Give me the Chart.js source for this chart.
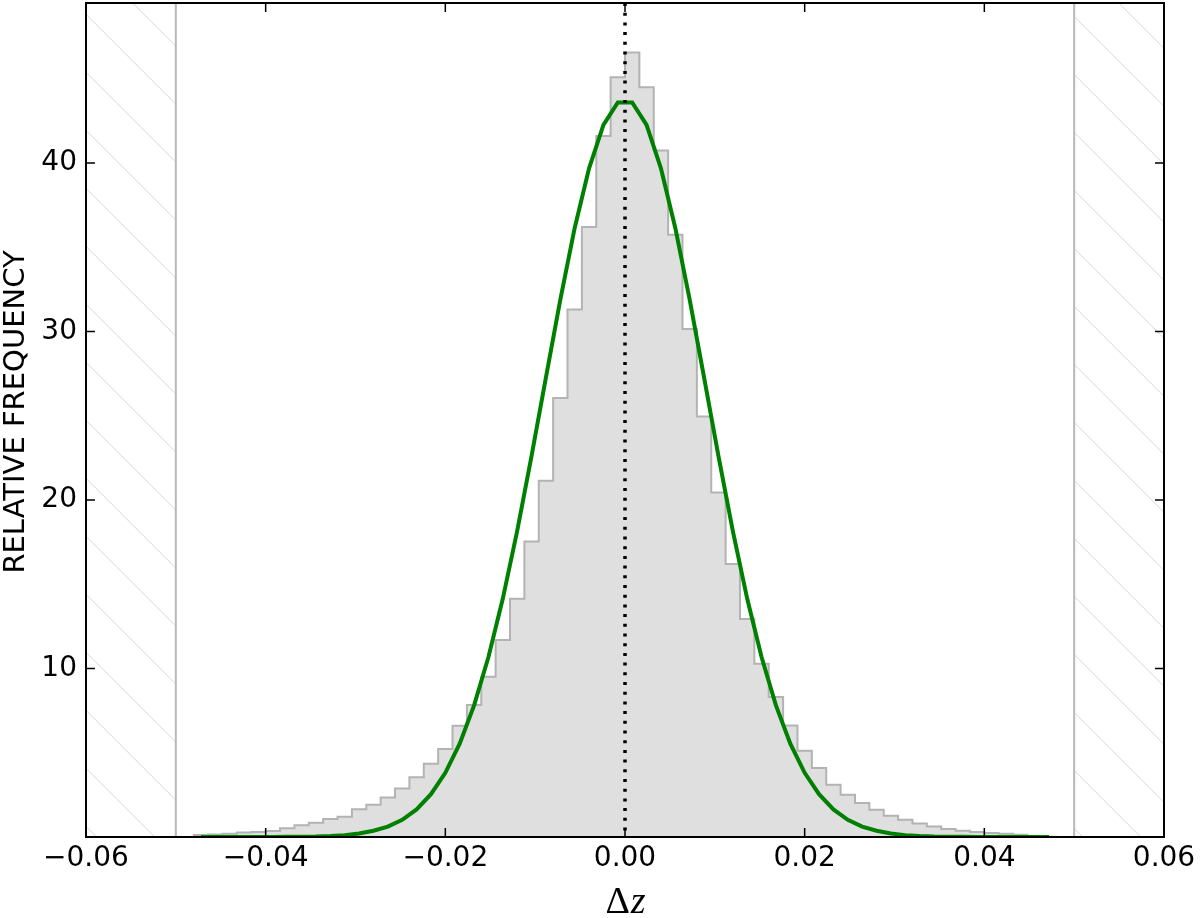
<!DOCTYPE html>
<html>
<head>
<meta charset="utf-8">
<script src="https://cdn.jsdelivr.net/npm/chart.js@4"></script>
<style>
  body { margin: 0; background: #fff; }
</style>
</head>
<body>
<canvas id="chart" width="1200" height="918"></canvas>
<script>
// histogram bin edges (Δz)
const binEdges = [
  -0.0480, -0.0464, -0.0448, -0.0432, -0.0416, -0.0400, -0.0384, -0.0368, -0.0352, -0.0336,
  -0.0320, -0.0304, -0.0288, -0.0272, -0.0256, -0.0240, -0.0224, -0.0208, -0.0192, -0.0176,
  -0.0160, -0.0144, -0.0128, -0.0112, -0.0096, -0.0080, -0.0064, -0.0048, -0.0032, -0.0016,
  0.0000, 0.0016, 0.0032, 0.0048, 0.0064, 0.0080, 0.0096, 0.0112, 0.0128, 0.0144,
  0.0160, 0.0176, 0.0192, 0.0208, 0.0224, 0.0240, 0.0256, 0.0272, 0.0288, 0.0304,
  0.0320, 0.0336, 0.0352, 0.0368, 0.0384, 0.0400, 0.0416, 0.0432, 0.0448, 0.0464,
  0.0480
];

// relative frequency per bin
const histValues = [
  0.12, 0.15, 0.20, 0.26, 0.29, 0.36, 0.52, 0.69, 0.84, 1.07,
  1.20, 1.64, 1.92, 2.35, 2.88, 3.54, 4.35, 5.22, 6.61, 7.83,
  9.51, 11.69, 14.14, 17.54, 21.15, 26.05, 31.31, 36.2, 41.6, 45.1,
  46.56, 44.5, 40.75, 35.74, 30.15, 24.96, 20.45, 16.2, 12.94, 10.28,
  8.31, 6.62, 5.12, 4.09, 3.10, 2.51, 2.02, 1.62, 1.26, 1.02,
  0.80, 0.62, 0.47, 0.37, 0.30, 0.24, 0.19, 0.14, 0.03, 0.02
];

// gaussian fit, read at the bin centres
const fitValues = [
  0, 0, 0, 0, 0, 0, 0.01, 0.02, 0.03, 0.06,
  0.11, 0.21, 0.37, 0.62, 1.02, 1.64, 2.54, 3.81, 5.54, 7.81,
  10.68, 14.15, 18.17, 22.62, 27.28, 31.90, 36.15, 39.69, 42.26, 43.60,
  43.60, 42.26, 39.69, 36.15, 31.90, 27.28, 22.62, 18.17, 14.15, 10.68,
  7.81, 5.54, 3.81, 2.54, 1.64, 1.02, 0.62, 0.37, 0.21, 0.11,
  0.06, 0.03, 0.02, 0.01, 0, 0, 0, 0, 0, 0
];

const xTicks = [-0.06, -0.04, -0.02, 0, 0.02, 0.04, 0.06];
const yTicks = [10, 20, 30, 40];
const cutLow = -0.05;
const cutHigh = 0.05;
const xMin = -0.06, xMax = 0.06;
const yMin = 0, yMax = 49.5;

// step outline of the histogram
const histPoints = [{ x: binEdges[0], y: 0 }];
histValues.forEach((v, i) => histPoints.push({ x: binEdges[i], y: v }));
histPoints.push({ x: binEdges[binEdges.length - 1], y: histValues[histValues.length - 1] });
histPoints.push({ x: binEdges[binEdges.length - 1], y: 0 });

const fitPoints = fitValues.map((v, i) => ({ x: (binEdges[i] + binEdges[i + 1]) / 2, y: v }));

function makeHatch(ctx) {
  const c = document.createElement('canvas');
  c.width = 58;
  c.height = 58;
  const g = c.getContext('2d');
  g.strokeStyle = '#d6d6d6';
  g.lineWidth = 1;
  for (const off of [-58, 0, 58]) {
    g.beginPath();
    g.moveTo(0, 44.3 + off);
    g.lineTo(58, 102.3 + off);
    g.stroke();
  }
  return ctx.createPattern(c, 'repeat');
}

const fmtX = v => (v < -1e-9 ? '\u2212' : '') + Math.abs(v).toFixed(2);

// inward ticks on all four sides, the frame, and the axis titles
const frameAndTicks = {
  id: 'frameAndTicks',
  afterDraw(chart) {
    const { ctx, chartArea: a, scales: { x, y } } = chart;
    const tl = 9;
    ctx.save();
    ctx.strokeStyle = '#000';
    ctx.lineWidth = 1.5;
    ctx.beginPath();
    x.ticks.forEach(t => {
      const px = x.getPixelForValue(t.value);
      ctx.moveTo(px, a.top); ctx.lineTo(px, a.top + tl);
      ctx.moveTo(px, a.bottom); ctx.lineTo(px, a.bottom - tl);
    });
    y.ticks.forEach(t => {
      const py = y.getPixelForValue(t.value);
      ctx.moveTo(a.left, py); ctx.lineTo(a.left + tl, py);
      ctx.moveTo(a.right, py); ctx.lineTo(a.right - tl, py);
    });
    ctx.stroke();
    ctx.lineWidth = 2;
    ctx.strokeRect(a.left, a.top, a.right - a.left, a.bottom - a.top);

    // x title: upright Δ, italic z
    ctx.fillStyle = '#000';
    ctx.textBaseline = 'alphabetic';
    ctx.textAlign = 'left';
    const upright = '38px "Liberation Serif"';
    const italic = 'italic 38px "Liberation Serif"';
    ctx.font = upright;
    const wD = ctx.measureText('\u0394').width;
    ctx.font = italic;
    const wZ = ctx.measureText('z').width;
    const cx = (a.left + a.right) / 2;
    const x0 = cx - (wD + wZ) / 2;
    ctx.font = upright;
    ctx.fillText('\u0394', x0, 913);
    ctx.font = italic;
    ctx.fillText('z', x0 + wD + 1, 913);

    // y title
    ctx.font = '29px "DejaVu Sans"';
    ctx.textAlign = 'center';
    ctx.textBaseline = 'middle';
    ctx.translate(16, 412);
    ctx.rotate(-Math.PI / 2);
    ctx.fillText('RELATIVE FREQUENCY', 0, 0);
    ctx.restore();
  }
};

const canvas = document.getElementById('chart');
const ctx = canvas.getContext('2d');
const hatch = makeHatch(ctx);

new Chart(ctx, {
  type: 'line',
  data: {
    datasets: [
      {
        // dotted line at Δz = 0
        data: [{ x: 0, y: yMax }, { x: 0, y: yMin }],
        borderColor: '#000',
        borderWidth: 3.5,
        borderDash: [3, 6.7],
        pointRadius: 0,
        order: 0
      },
      {
        data: fitPoints,
        borderColor: '#008000',
        borderWidth: 4,
        pointRadius: 0,
        tension: 0,
        order: 1
      },
      {
        data: histPoints,
        stepped: true,
        borderColor: '#b3b3b3',
        borderWidth: 2,
        backgroundColor: '#dfdfdf',
        fill: 'origin',
        pointRadius: 0,
        order: 2
      },
      {
        data: [{ x: cutLow, y: yMin }, { x: cutLow, y: yMax }],
        borderColor: '#b8b8b8',
        borderWidth: 2,
        pointRadius: 0,
        order: 3
      },
      {
        data: [{ x: cutHigh, y: yMin }, { x: cutHigh, y: yMax }],
        borderColor: '#b8b8b8',
        borderWidth: 2,
        pointRadius: 0,
        order: 3
      },
      {
        data: [{ x: xMin, y: yMax }, { x: cutLow, y: yMax }],
        borderWidth: 0,
        backgroundColor: hatch,
        fill: 'origin',
        pointRadius: 0,
        order: 4
      },
      {
        data: [{ x: cutHigh, y: yMax }, { x: xMax, y: yMax }],
        borderWidth: 0,
        backgroundColor: hatch,
        fill: 'origin',
        pointRadius: 0,
        order: 4
      }
    ]
  },
  options: {
    responsive: false,
    devicePixelRatio: 1,
    animation: false,
    layout: { padding: { top: 3, right: 36, left: 0, bottom: 0 } },
    plugins: {
      legend: { display: false },
      tooltip: { enabled: false }
    },
    scales: {
      x: {
        type: 'linear',
        min: xMin,
        max: xMax,
        afterBuildTicks: s => { s.ticks = xTicks.map(v => ({ value: v })); },
        afterFit: s => { s.height = 81; s.paddingLeft = 0; s.paddingRight = 0; },
        grid: { display: false, drawTicks: false },
        border: { display: false },
        ticks: {
          color: '#000',
          font: { family: 'DejaVu Sans', size: 28 },
          padding: 5,
          maxRotation: 0,
          callback: v => fmtX(v)
        }
      },
      y: {
        type: 'linear',
        min: yMin,
        max: yMax,
        afterBuildTicks: s => { s.ticks = yTicks.map(v => ({ value: v })); },
        afterFit: s => { s.width = 86; s.paddingTop = 0; s.paddingBottom = 0; },
        grid: { display: false, drawTicks: false },
        border: { display: false },
        ticks: {
          color: '#000',
          font: { family: 'DejaVu Sans', size: 28 },
          padding: 9,
          callback: v => String(v)
        }
      }
    }
  },
  plugins: [frameAndTicks]
});
</script>
</body>
</html>
